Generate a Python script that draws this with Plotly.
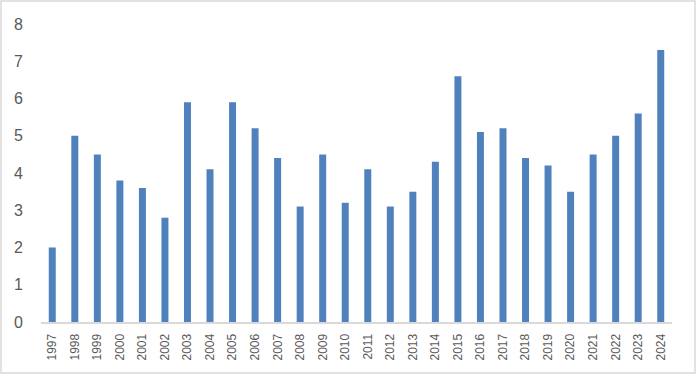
import plotly.graph_objects as go

years = [str(y) for y in range(1997, 2025)]
values = [2.0, 5.0, 4.5, 3.8, 3.6, 2.8, 5.9, 4.1, 5.9, 5.2, 4.4, 3.1, 4.5, 3.2,
          4.1, 3.1, 3.5, 4.3, 6.6, 5.1, 5.2, 4.4, 4.2, 3.5, 4.5, 5.0, 5.6, 7.3]
y_ticks = [0, 1, 2, 3, 4, 5, 6, 7, 8]

W, H = 697, 375
L, R, T, B = 41, 25, 24, 53
pw, ph = W - L - R, H - T - B

fig = go.Figure(go.Bar(x=years, y=values, marker_color="#4F81BD",
                       marker_line_width=0))

fig.update_layout(
    width=W, height=H,
    margin=dict(l=L, r=R, t=T, b=B, pad=0, autoexpand=False),
    paper_bgcolor="white", plot_bgcolor="white",
    bargap=0.69,
    showlegend=False,
    font=dict(family="Liberation Sans, Arial, sans-serif", color="#595959"),
    xaxis=dict(type="category", showgrid=False, showline=True, linecolor="#D9D9D9",
               linewidth=2, tickangle=-90, tickfont=dict(size=12),
               ticks="outside", ticklen=5, tickcolor="rgba(0,0,0,0)"),
    yaxis=dict(range=[0, 8], tickvals=y_ticks, showgrid=False, showline=False,
               zeroline=False, tickfont=dict(size=16),
               ticks="outside", ticklen=14, tickcolor="rgba(0,0,0,0)"),
    shapes=[dict(type="rect", xref="paper", yref="paper",
                 x0=(1 - L) / pw, x1=(W - 2 - L) / pw,
                 y0=-(H - 2 - (H - B)) / ph, y1=(H - B - 1) / ph,
                 line=dict(color="#D9D9D9", width=1.5), fillcolor="rgba(0,0,0,0)",
                 layer="below")],
)

fig.write_html("out.html", config={"displayModeBar": False},
               post_script="document.body.style.margin='0';document.body.style.overflow='hidden';")
